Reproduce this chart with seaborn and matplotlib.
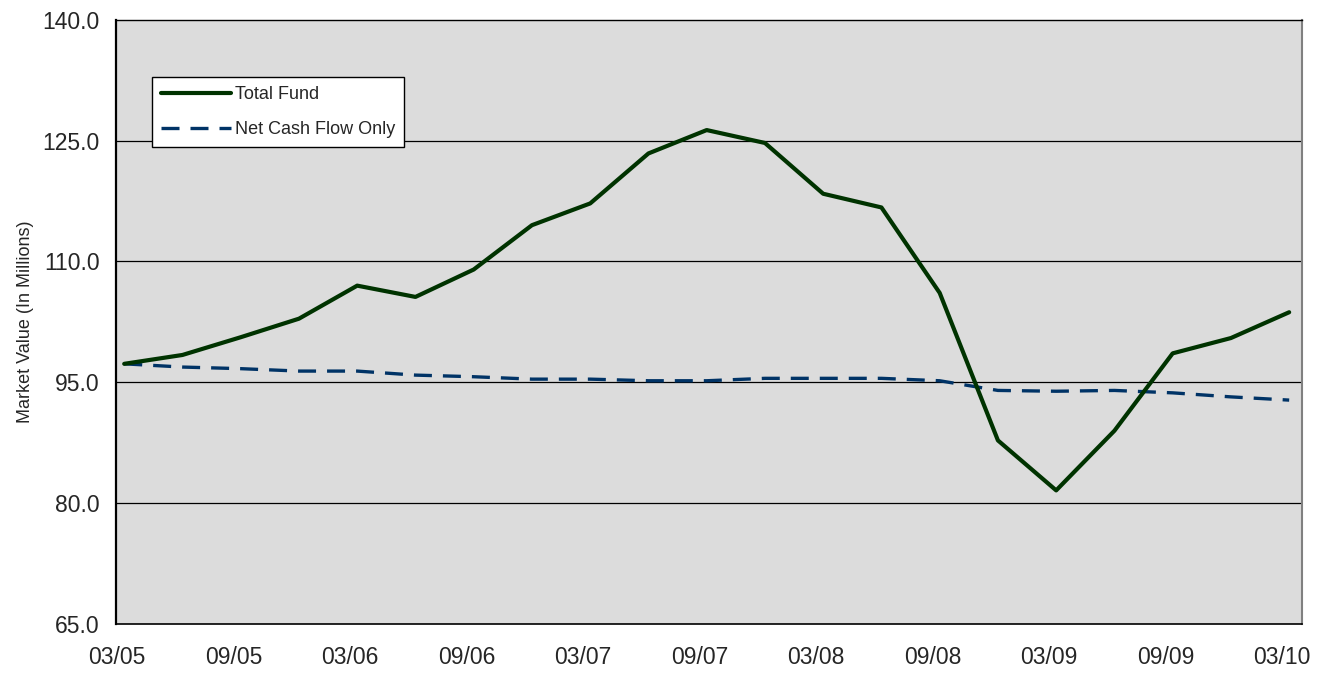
import numpy as np
import pandas as pd
import seaborn as sns
import matplotlib
matplotlib.use("Agg")
import matplotlib.pyplot as plt

# Quarterly values, 03/05 .. 03/10
quarters = ["03/05", "06/05", "09/05", "12/05", "03/06", "06/06", "09/06", "12/06",
            "03/07", "06/07", "09/07", "12/07", "03/08", "06/08", "09/08", "12/08",
            "03/09", "06/09", "09/09", "12/09", "03/10"]
total_fund = [97.3, 98.4, 100.6, 102.9, 107.0, 105.6, 109.0, 114.5, 117.2, 123.4, 126.3,
              124.7, 118.4, 116.7, 106.1, 87.8, 81.6, 89.0, 98.6, 100.5, 103.7]
net_cash_flow = [97.3, 96.9, 96.7, 96.4, 96.4, 95.9, 95.7, 95.4, 95.4, 95.2, 95.2,
                 95.5, 95.5, 95.5, 95.2, 94.0, 93.9, 94.0, 93.7, 93.2, 92.8]
tick_labels = quarters[::2]
y_ticks = [65, 80, 95, 110, 125, 140]

sns.set_theme(style="white")
plt.rcParams['font.family'] = ['Liberation Sans', 'DejaVu Sans']

df = pd.DataFrame({
    "q": np.arange(len(quarters)) + 0.12,
    "Total Fund": total_fund,
    "Net Cash Flow Only": net_cash_flow,
})

fig, ax = plt.subplots(figsize=(13.34, 6.77), dpi=100)
fig.subplots_adjust(left=0.087, right=0.976, top=0.971, bottom=0.078)
ax.set_facecolor("#DCDCDC")

for y in [80, 95, 110, 125]:
    ax.axhline(y, color="black", lw=0.9, zorder=1)

sns.lineplot(data=df, x="q", y="Total Fund", ax=ax, color="#003300", lw=3.0,
             label="Total Fund", zorder=3)
sns.lineplot(data=df, x="q", y="Net Cash Flow Only", ax=ax, color="#003366", lw=2.4,
             dashes=(5.4, 3.3), label="Net Cash Flow Only", zorder=2)

ax.set_xlim(-0.02, 20.34)
ax.set_ylim(65, 140)
ax.set_xticks(np.arange(0, len(quarters), 2))
ax.set_xticklabels(tick_labels, fontsize=16.5)
ax.set_yticks(y_ticks)
ax.set_yticklabels([f"{v:.1f}" for v in y_ticks], fontsize=16.5)
ax.tick_params(axis="both", direction="out", length=6, width=1, color="#333333", pad=10)
ax.tick_params(axis="y", pad=6)
ax.set_xlabel("")
ax.set_ylabel("Market Value (In Millions)", fontsize=13, labelpad=6)

for side in ["left", "bottom", "top"]:
    ax.spines[side].set_color("black")
ax.spines["left"].set_linewidth(1.6)
ax.spines["bottom"].set_linewidth(1.2)
ax.spines["top"].set_linewidth(1.0)
ax.spines["right"].set_color("#808080")
ax.spines["right"].set_linewidth(1.5)

leg = ax.legend(loc="upper left", bbox_to_anchor=(0.03, 0.905), fontsize=13,
                frameon=True, fancybox=False, framealpha=1, edgecolor="black",
                handlelength=3.9, handletextpad=0.2, borderpad=0.5, labelspacing=1.0,
                borderaxespad=0)
leg.get_frame().set_linewidth(1.0)

fig.savefig("out.png", dpi=100, facecolor="white")
